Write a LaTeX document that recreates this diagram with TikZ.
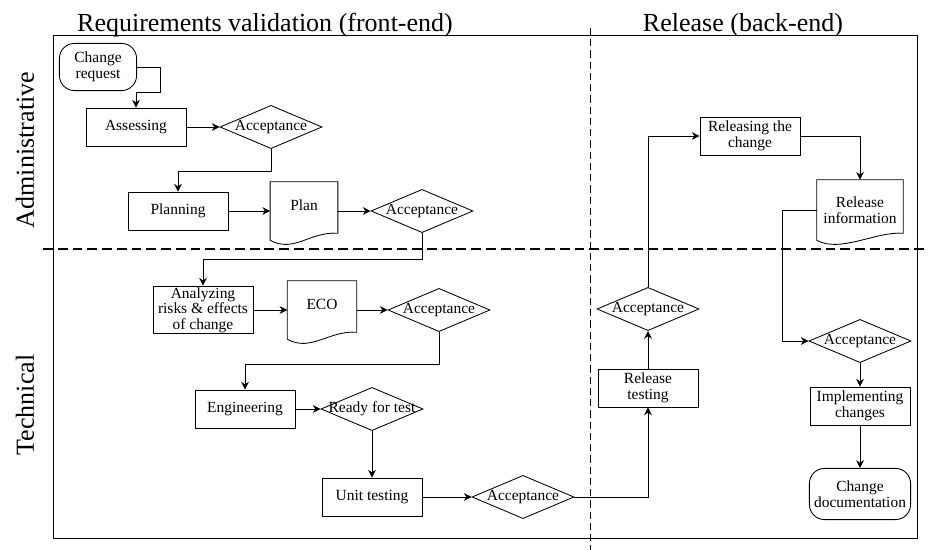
\documentclass[tikz,border=0pt]{standalone}
\usepackage{fontspec}
\setmainfont{Liberation Serif}
\usetikzlibrary{shapes.geometric,arrows.meta}

\begin{document}
\begin{tikzpicture}[
      x=0.025cm, y=-0.025cm,
      every node/.style={font=\fontsize{11}{11}\selectfont},
      box/.style={draw, line width=0.6pt, minimum width=2.5cm, minimum height=0.95cm, inner sep=1pt, align=center},
      term/.style={box, rounded corners=0.38cm},
      decision/.style={draw, diamond, line width=0.6pt, aspect=2.37, inner sep=0pt, minimum width=2.55cm, minimum height=1.08cm},
      doc/.style={inner sep=1pt, minimum height=1.45cm, align=center},
      arrow/.style={-{Stealth[length=5.5pt,width=5.5pt]}, line width=0.6pt},
      heading/.style={font=\fontsize{18.5}{20}\selectfont},
      lane/.style={line width=1.3pt, dash pattern=on 7pt off 3.5pt}
    ]
      \useasboundingbox (0,0) rectangle (929,550);

      % Frame and swimlanes
      \draw[line width=0.7pt] (53,35) rectangle (917,538);
      \draw[line width=0.7pt, dash pattern=on 5pt off 3pt] (590,28) -- (590,550);
      \draw[lane] (43,249) -- (929,249);

      % Headings
      \node[heading, anchor=base] (front) at (265,32) {Requirements validation (front-end)};
      \node[heading, anchor=base] (back) at (743,32) {Release (back-end)};
      \node[heading, rotate=90] (admin) at (25,150) {Administrative};
      \node[heading, rotate=90] (tech) at (25,405) {Technical};

      % Administrative, front-end
      \node[term, minimum width=1.93cm, minimum height=1.18cm] (cr) at (98,67) {Change\\request};
      \node[box] (assess) at (136,127) {Assessing};
      \node[decision, label=center:Acceptance] (acc1) at (271,127) {};
      \node[box] (planning) at (178,211) {Planning};
      \node[doc, minimum width=1.68cm, label={[yshift=4pt]center:Plan}] (plan) at (304,211) {};
      \node[decision, label=center:Acceptance] (acc2) at (422,211) {};

      % Technical, front-end
      \node[box, minimum height=1.1cm] (analyze) at (203,310) {Analyzing\\risks \& effects\\of change};
      \node[doc, minimum width=1.72cm, label={[yshift=4pt]center:ECO}] (eco) at (322,310) {};
      \node[decision, label=center:Acceptance] (acc3) at (439,310) {};
      \node[box] (eng) at (245,409) {Engineering};
      \node[decision, label=center:{Ready for test}] (ready) at (372,409) {};
      \node[box] (unit) at (372,497) {Unit testing};
      \node[decision, label=center:Acceptance] (acc4) at (523,497) {};

      % Back-end
      \node[box] (reltest) at (648,388) {Release\\testing};
      \node[decision, label=center:Acceptance] (acc5) at (648,309) {};
      \node[box] (releasing) at (750,136) {Releasing the\\change};
      \node[doc, minimum width=2.15cm, minimum height=1.5cm] (relinfo) at (860,210) {Release\\information};
      \node[decision, label=center:Acceptance] (acc6) at (860,341) {};
      \node[box] (impl) at (860,406) {Implementing\\changes};
      \node[term, minimum width=2.53cm, minimum height=1.28cm] (cdoc) at (860,494) {Change\\documentation};

      % Document outlines
      \foreach \d in {plan,eco,relinfo}
        \draw[line width=0.6pt] (\d.south west) -- (\d.north west) -- (\d.north east) -- ([yshift=5pt]\d.south east)
          .. controls +(-28,-2) and +(24,13) .. (\d.south west);

      % Arrows
      \draw[arrow] (cr.east) -- ++(23,0) -- ++(0,25) -| (assess.north);
      \draw[arrow] (assess) -- (acc1);
      \draw[arrow] (acc1.south) -- ++(0,22) -| (planning.north);
      \draw[arrow] (planning) -- (plan);
      \draw[arrow] (plan) -- (acc2);
      \draw[arrow] (acc2.south) -- ++(0,26) -| (analyze.north);
      \draw[arrow] (analyze) -- (eco);
      \draw[arrow] (eco) -- (acc3);
      \draw[arrow] (acc3.south) -- ++(0,32) -| (eng.north);
      \draw[arrow] (eng) -- (ready);
      \draw[arrow] (ready) -- (unit);
      \draw[arrow] (unit) -- (acc4);
      \draw[arrow] (acc4.east) -| (reltest.south);
      \draw[arrow] (reltest) -- (acc5);
      \draw[arrow] (acc5.north) |- (releasing.west);
      \draw[arrow] (releasing.east) -| (relinfo.north);
      \draw[arrow] (relinfo.west) -- ++(-34,0) |- (acc6.west);
      \draw[arrow] (acc6) -- (impl);
      \draw[arrow] (impl) -- (cdoc);
    \end{tikzpicture}
\end{document}
